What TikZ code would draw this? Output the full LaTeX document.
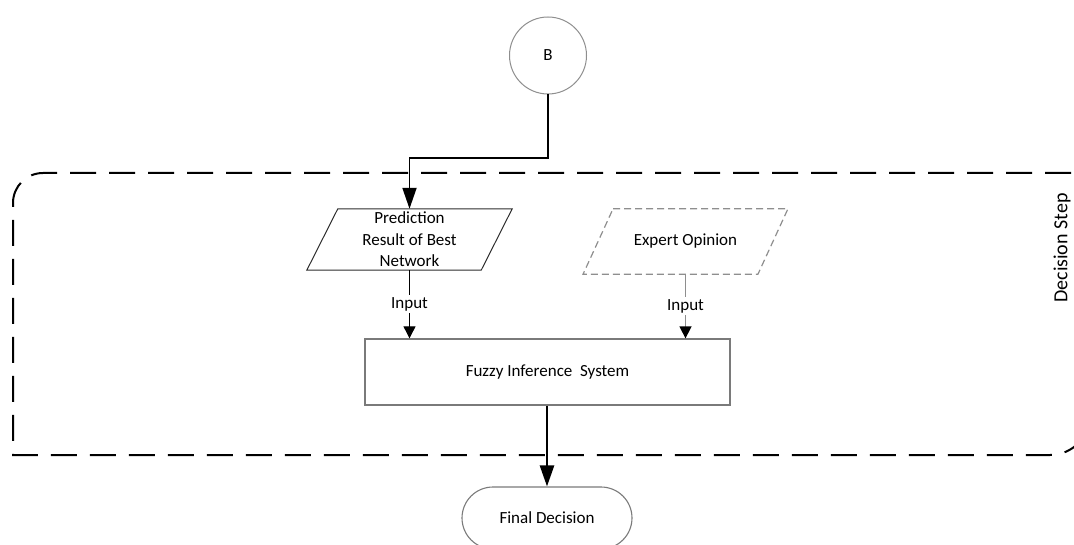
\documentclass[tikz,border=0pt]{standalone}
\usepackage{fontspec}
\setmainfont{Carlito}
\usetikzlibrary{arrows.meta,calc}

\definecolor{edgegray}{HTML}{7A7A7A}
\definecolor{softgray}{HTML}{8E8E8E}

\tikzset{
  lbl/.style={font=\fontsize{17}{21.5}\selectfont, align=center, inner sep=0pt},
  stepbox/.style={lbl, draw=edgegray, line width=1.3pt, minimum width=365pt, minimum height=66pt},
  connector/.style={lbl, draw=softgray, line width=1pt, circle, minimum size=77pt},
  terminal/.style={lbl, draw=edgegray, line width=1.1pt, rounded corners=31pt, minimum width=170pt, minimum height=62pt},
  databox/.style={lbl, minimum width=174pt, minimum height=61pt},
  bigtip/.style={-{Triangle[length=21pt,width=14pt]}},
  smalltip/.style={-{Triangle[length=12pt,width=12pt,color=black]}},
  frame/.style={line width=2pt, dash pattern=on 26pt off 13pt},
  inlabel/.style={lbl, fill=white, inner sep=2pt},
}

\begin{document}
\begin{tikzpicture}[x=1pt, y=-1pt]
\useasboundingbox (0,0) rectangle (1074,545);
\clip (0,0) rectangle (1074,545);

% decision step container
\draw[frame] (1110,173) -- (43,173)
  .. controls (26.4,173) and (13,186.4) .. (13,203) -- (13,455)
  -- (1050,455) .. controls (1072.1,455) and (1090,437.1) .. (1090,415) -- (1090,150);
\node[lbl, font=\fontsize{20}{24}\selectfont, rotate=90] (steplabel) at (1062,248) {Decision Step};

% off-page connector
\node[connector] (b) at (548,55.5) {B};

% inputs
\node[databox] (p1) at (409.5,239.5) {Prediction\\Result of Best\\Network};
\draw[draw=black!65!gray, line width=1pt]
  ([xshift=15.5pt]p1.north west) -- ([xshift=15.5pt]p1.north east)
  -- ([xshift=-15.5pt]p1.south east) -- ([xshift=-15.5pt]p1.south west) -- cycle;

\node[lbl, minimum width=174.5pt, minimum height=65pt] (p2) at (685.5,241.5) {Expert Opinion};
\draw[draw=softgray, line width=1.2pt, dash pattern=on 7pt off 4pt]
  ([xshift=15pt]p2.north west) -- ([xshift=15pt]p2.north east)
  -- ([xshift=-15pt]p2.south east) -- ([xshift=-15pt]p2.south west) -- cycle;

% fuzzy system and outcome
\node[stepbox] (fis) at (547.5,372) {Fuzzy Inference~~System};
\node[terminal] (final) at (547,518) {Final Decision};

% connectors
\coordinate (elbow) at (409.5,158);
\draw[bigtip, line width=1.8pt] (b.south) |- (elbow) -- (p1.north);
\draw[smalltip, line width=0.9pt] (p1.south) -- node[inlabel, pos=0.5]{Input} (p1.south |- fis.north);
\draw[smalltip, draw=softgray, line width=1.5pt] (p2.south) -- node[inlabel, pos=0.5, text=black]{Input} (p2.south |- fis.north);
\draw[bigtip, line width=2.5pt] (fis.south -| final.north) -- (final.north);
\end{tikzpicture}
\end{document}
